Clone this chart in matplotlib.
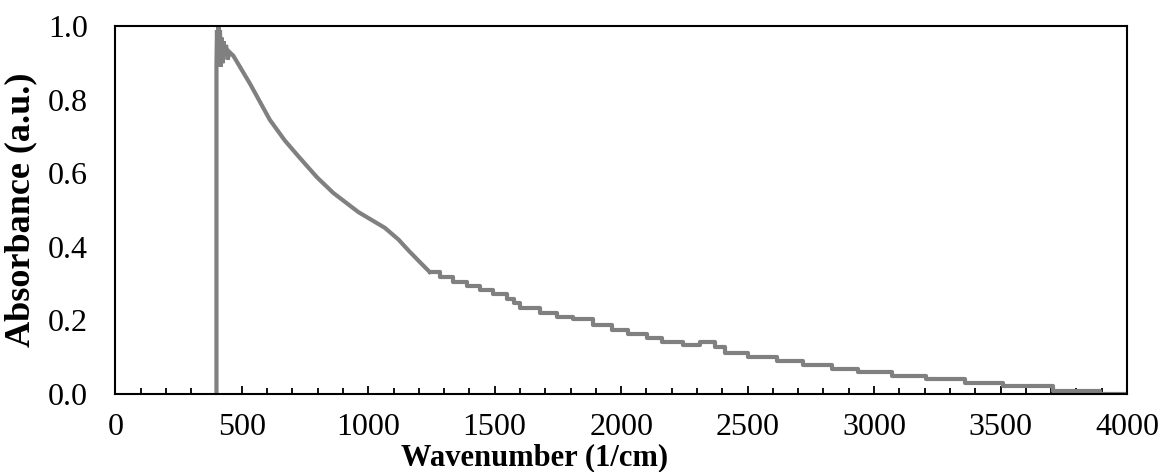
import numpy as np
import matplotlib.pyplot as plt
from matplotlib.ticker import MultipleLocator

# Espectro de absorbância (parte contínua, 400 - 1243 1/cm)
wn_curve = [400, 400, 402, 405, 408, 411, 414, 417, 420, 424, 428, 433, 438, 444,
            452, 467, 532, 611, 670, 730, 797, 862, 961, 1066, 1120, 1160, 1204,
            1243]
abs_curve = [0.0, 0.90, 0.99, 0.91, 1.0, 0.93, 0.99, 0.89, 0.97, 0.90, 0.96, 0.92,
             0.95, 0.91, 0.93, 0.92, 0.845, 0.746, 0.69, 0.642, 0.590, 0.547,
             0.495, 0.452, 0.42, 0.39, 0.359, 0.332]

# Parte em degraus, 1243 - 4000 1/cm
wn_steps = [1243, 1283, 1335, 1391, 1442, 1494, 1548, 1575, 1600, 1679, 1747,
            1810, 1890, 1963, 2026, 2101, 2161, 2244, 2311, 2370, 2410, 2501,
            2615, 2718, 2832, 2935, 3070, 3204, 3358, 3508, 3706, 3892, 4000]
abs_steps = [0.332, 0.318, 0.305, 0.294, 0.284, 0.272, 0.259, 0.248, 0.233,
             0.221, 0.210, 0.203, 0.187, 0.173, 0.163, 0.151, 0.141, 0.132,
             0.141, 0.128, 0.112, 0.101, 0.091, 0.080, 0.069, 0.060, 0.049,
             0.040, 0.031, 0.022, 0.009, 0.0, 0.0]

plt.rcParams['font.family'] = 'Liberation Serif'

fig = plt.figure(figsize=(11.61, 4.72), dpi=100)
ax = fig.add_axes([0.0993, 0.1653, 0.8714, 0.7786])

cinza = '#808080'
ax.plot(wn_curve, abs_curve, color=cinza, lw=3.0, solid_joinstyle='miter')
ax.plot(wn_steps, abs_steps, color=cinza, lw=3.0, drawstyle='steps-post')

ax.set_xlim(0, 4000)
ax.set_ylim(0, 1.0)
ax.xaxis.set_major_locator(MultipleLocator(500))
ax.xaxis.set_minor_locator(MultipleLocator(100))
ax.yaxis.set_major_locator(MultipleLocator(0.2))
ax.yaxis.set_major_formatter(plt.FormatStrFormatter('%.1f'))

ax.tick_params(axis='x', which='major', direction='in', length=6, width=1.3,
               labelsize=23, pad=13.5)
ax.tick_params(axis='x', which='minor', direction='in', length=4.5, width=1.3)
ax.tick_params(axis='y', length=0, labelsize=23, pad=19.5)
for s in ax.spines.values():
    s.set_linewidth(1.5)

ax.set_xlabel('Wavenumber (1/cm)', fontsize=22, fontweight='bold', va='baseline')
ax.xaxis.set_label_coords(0.414, -0.193)
ax.set_ylabel('Absorbance (a.u.)', fontsize=26, fontweight='bold')
ax.yaxis.set_label_coords(-0.077, 0.5)

fig.savefig('out.png', dpi=100)
